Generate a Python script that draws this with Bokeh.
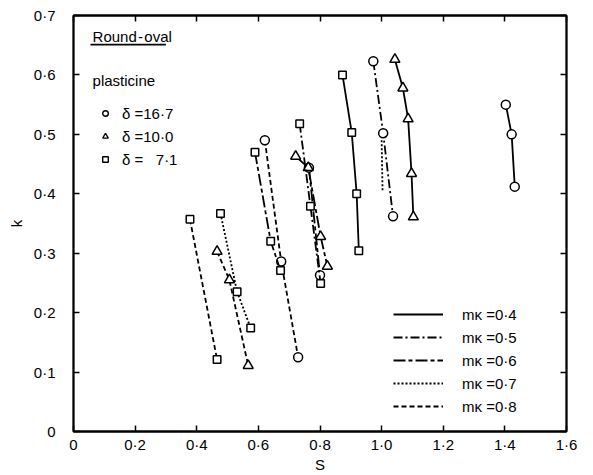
from bokeh.plotting import figure
from bokeh.models import (LinearAxis, FixedTicker, CustomJSTickFormatter, Legend,
                          LegendItem, Label, BoxAnnotation, Range1d)
from bokeh.embed import file_html
from bokeh.resources import INLINE

FONT = "Liberation Sans"
NAN = float("nan")

# ---------------- data ----------------
x_ticks = [0, 0.2, 0.4, 0.6, 0.8, 1.0, 1.2, 1.4, 1.6]
y_ticks = [0, 0.1, 0.2, 0.3, 0.4, 0.5, 0.6, 0.7]

delta_labels = ["δ =16·7", "δ =10·0", "δ = \u20077·1"]
mk_labels = ["mκ =0·4", "mκ =0·5", "mκ =0·6", "mκ =0·7", "mκ =0·8"]

# delta = 16.7 (circles)
c_m04_S = [1.403, 1.422, 1.432]
c_m04_k = [0.550, 0.500, 0.412]
c_m05_S = [0.973, 1.005, 1.037]
c_m05_k = [0.623, 0.502, 0.362]
c_m06_S = [0.764, 0.800]
c_m06_k = [0.444, 0.263]
c_m07_S = [1.000, 1.003]
c_m07_k = [0.490, 0.405]
c_m08_S = [0.621, 0.674, 0.729]
c_m08_k = [0.490, 0.286, 0.125]

# delta = 10.0 (triangles)
t_m04_S = [1.043, 1.069, 1.086, 1.097, 1.103]
t_m04_k = [0.626, 0.578, 0.526, 0.434, 0.361]
t_m06_S = [0.721, 0.762, 0.802, 0.824]
t_m06_k = [0.463, 0.444, 0.328, 0.278]
t_m08_S = [0.466, 0.506, 0.567]
t_m08_k = [0.303, 0.255, 0.111]

# delta = 7.1 (squares)
s_m04_S = [0.873, 0.903, 0.919, 0.926]
s_m04_k = [0.600, 0.503, 0.400, 0.304]
s_m05_S = [0.734, 0.769, 0.802]
s_m05_k = [0.518, 0.379, 0.249]
s_m06_S = [0.589, 0.640, 0.672]
s_m06_k = [0.470, 0.320, 0.271]
s_m07_S = [0.477, 0.531, 0.575]
s_m07_k = [0.367, 0.235, 0.174]
s_m08_S = [0.378, 0.466]
s_m08_k = [0.357, 0.121]

# ---------------- styles ----------------
dash = {"0.4": "solid", "0.5": "9 3 2 3", "0.6": "12 3 4 3", "0.7": "2 2", "0.8": "5 3"}
msize = {"circle": 9, "triangle": 10, "square": 7.5}

series = [
    (c_m04_S, c_m04_k, "circle", "0.4", True),
    (c_m05_S, c_m05_k, "circle", "0.5", True),
    (c_m06_S, c_m06_k, "circle", "0.6", True),
    (c_m07_S, c_m07_k, "circle", "0.7", False),
    (c_m08_S, c_m08_k, "circle", "0.8", True),
    (t_m04_S, t_m04_k, "triangle", "0.4", True),
    (t_m06_S, t_m06_k, "triangle", "0.6", True),
    (t_m08_S, t_m08_k, "triangle", "0.8", True),
    (s_m04_S, s_m04_k, "square", "0.4", True),
    (s_m05_S, s_m05_k, "square", "0.5", True),
    (s_m06_S, s_m06_k, "square", "0.6", True),
    (s_m07_S, s_m07_k, "square", "0.7", True),
    (s_m08_S, s_m08_k, "square", "0.8", True),
]

p = figure(width=593, height=475, x_range=Range1d(0, 1.6), y_range=Range1d(0, 0.7),
           output_backend="svg", toolbar_location=None,
           min_border_left=73, min_border_right=27, min_border_top=15, min_border_bottom=44)
p.grid.visible = False
p.outline_line_color = "black"
p.outline_line_width = 1.8
p.background_fill_color = "white"
p.border_fill_color = "white"

fmt = CustomJSTickFormatter(code="return tick == 0 ? '0' : tick.toFixed(1).replace('.', '\u00b7');")
blank = CustomJSTickFormatter(code="return '';")

def style_axis(ax, ticks, show_labels):
    ax.ticker = FixedTicker(ticks=ticks)
    ax.minor_tick_line_color = None
    ax.major_tick_in = 6
    ax.major_tick_out = 0
    ax.major_tick_line_color = "black"
    ax.major_tick_line_width = 1.5
    ax.axis_line_color = "black"
    ax.axis_line_width = 1.8
    ax.major_label_text_font = FONT
    ax.major_label_text_color = "black"
    ax.major_label_text_font_size = "15px"
    ax.axis_label_text_font = FONT
    ax.axis_label_text_font_style = "normal"
    ax.axis_label_text_font_size = "15px"
    ax.axis_label_text_color = "black"
    if show_labels:
        ax.formatter = fmt
    else:
        ax.formatter = blank
        ax.major_label_standoff = 0

style_axis(p.xaxis[0], x_ticks, True)
style_axis(p.yaxis[0], y_ticks, True)
p.xaxis[0].axis_label = "S"
p.xaxis[0].major_label_standoff = 4
p.xaxis[0].axis_label_standoff = 0
p.yaxis[0].axis_label = "k"
p.yaxis[0].major_label_standoff = 18
p.yaxis[0].axis_label_standoff = 6

top_ax = LinearAxis()
right_ax = LinearAxis()
style_axis(top_ax, x_ticks, False)
style_axis(right_ax, y_ticks, False)
p.add_layout(top_ax, "above")
p.add_layout(right_ax, "right")

first_line = {}
for S, k, mk_shape, mk, markers in series:
    r = p.line(S, k, line_color="black", line_width=1.8, line_dash=dash[mk])
    first_line.setdefault(mk, r)
    if markers:
        p.scatter(S, k, marker=mk_shape, size=msize[mk_shape], fill_color="white",
                  line_color="black", line_width=1.5)

# legend of deltas (small markers, renderers carry no visible points)
dummy = []
for shape in ["circle", "triangle", "square"]:
    dummy.append(p.scatter(x=[NAN], y=[NAN], marker=shape, size=5, fill_color="white",
                           line_color="black", line_width=1.4))
leg1 = Legend(items=[LegendItem(label=lab, renderers=[r]) for lab, r in zip(delta_labels, dummy)],
              location=(25, 262), padding=0, margin=0, spacing=3,
              glyph_width=14, glyph_height=20, label_height=20, label_standoff=10,
              label_text_font=FONT, label_text_font_size="15px", label_text_color="black",
              border_line_alpha=0, background_fill_alpha=0)
p.add_layout(leg1)

leg2 = Legend(items=[LegendItem(label=lab, renderers=[first_line[m]])
                     for lab, m in zip(mk_labels, ["0.4", "0.5", "0.6", "0.7", "0.8"])],
              location=(320, 15), padding=0, margin=0, spacing=3,
              glyph_width=50, glyph_height=20, label_height=20, label_standoff=19,
              label_text_font=FONT, label_text_font_size="15px", label_text_color="black",
              border_line_alpha=0, background_fill_alpha=0)
p.add_layout(leg2)

p.add_layout(Label(x=0.062, y=0.664, text="Round\u200a-\u200aoval", text_font=FONT,
                   text_font_size="15px", text_baseline="middle", text_color="black"))
p.add_layout(BoxAnnotation(left=0.055, right=0.300, bottom=0.6495, top=0.6525,
                           fill_color="black", fill_alpha=1, line_alpha=0))
p.add_layout(Label(x=0.062, y=0.591, text="plasticine", text_font=FONT,
                   text_font_size="15px", text_baseline="middle", text_color="black"))

open("out.html", "w").write(file_html(p, INLINE))
